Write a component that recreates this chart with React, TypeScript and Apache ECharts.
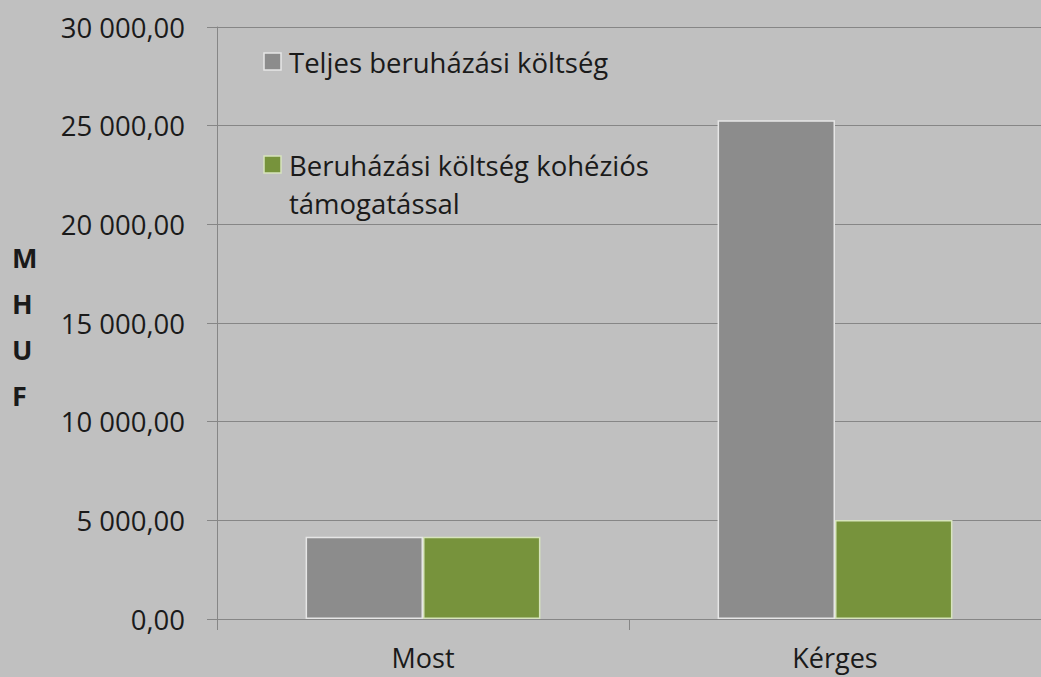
import React, { useEffect, useRef } from "react";
import * as echarts from "echarts";

const categories = ["Most", "Kérges"];
const seriesNames = ["Teljes beruházási költség", "Beruházási költség kohéziós\ntámogatással"];
const totalCost = [4170, 25280];
const cohesionCost = [4170, 5020];
const yAxisTitle = "M\nH\nU\nF";

const FONT = "'Open Sans', sans-serif";

export default function App() {
  const ref = useRef<HTMLDivElement>(null);
  useEffect(() => {
    const chart = echarts.init(ref.current!, null, { renderer: "svg" });
    chart.setOption({
      animation: false,
      backgroundColor: "#c0c0c0",
      textStyle: { fontFamily: FONT },
      grid: { left: 217, width: 830, top: 27, bottom: 58 },
      xAxis: {
        type: "category",
        data: categories,
        axisLine: { lineStyle: { color: "#868686", width: 1 } },
        axisTick: { show: true, length: 11, lineStyle: { color: "#868686" } },
        axisLabel: { color: "#1a1a1a", fontSize: 27, margin: 25, fontFamily: FONT },
      },
      yAxis: {
        type: "value",
        min: 0,
        max: 30000,
        interval: 5000,
        axisLine: { show: true, lineStyle: { color: "#868686", width: 1 } },
        axisTick: { show: true, length: 10, lineStyle: { color: "#868686" } },
        splitLine: { lineStyle: { color: "#868686", width: 1 } },
        axisLabel: {
          color: "#1a1a1a",
          fontSize: 27.5,
          margin: 32,
          fontFamily: FONT,
          formatter: (v: number) => {
            const s = v.toFixed(2).replace(".", ",");
            const [i, d] = s.split(",");
            return i.replace(/\B(?=(\d{3})+(?!\d))/g, " ") + "," + d;
          },
        },
      },
      series: [
        {
          name: seriesNames[0],
          type: "bar",
          data: totalCost,
          barGap: "0%",
          barCategoryGap: "43%",
          itemStyle: { color: "#8c8c8c", borderColor: "#e6e6e6", borderWidth: 1.5 },
        },
        {
          name: seriesNames[1],
          type: "bar",
          data: cohesionCost,
          itemStyle: { color: "#77933c", borderColor: "#d7e4bd", borderWidth: 1.5 },
        },
      ],
      graphic: [
        {
          type: "text",
          left: 12,
          top: 234,
          style: {
            text: yAxisTitle,
            font: `bold 27px ${FONT}`,
            lineHeight: 46,
            fill: "#1a1a1a",
            align: "center",
          },
        },
        {
          type: "rect",
          shape: { x: 264, y: 53, width: 17, height: 17 },
          style: { fill: "#8c8c8c", stroke: "#e6e6e6", lineWidth: 1.5 },
        },
        {
          type: "text",
          x: 289,
          y: 62,
          style: {
            text: seriesNames[0],
            font: `27.5px ${FONT}`,
            fill: "#1a1a1a",
            verticalAlign: "middle",
          },
        },
        {
          type: "rect",
          shape: { x: 264, y: 156, width: 17, height: 17 },
          style: { fill: "#77933c", stroke: "#d7e4bd", lineWidth: 1.5 },
        },
        {
          type: "text",
          x: 289,
          y: 146,
          style: {
            text: seriesNames[1],
            font: `27.5px ${FONT}`,
            lineHeight: 38,
            fill: "#1a1a1a",
            verticalAlign: "top",
          },
        },
      ],
    });
    return () => chart.dispose();
  }, []);
  return (
    <div
      ref={ref}
      style={{ position: "absolute", left: 0, top: 0, width: 1041, height: 677 }}
    />
  );
}
